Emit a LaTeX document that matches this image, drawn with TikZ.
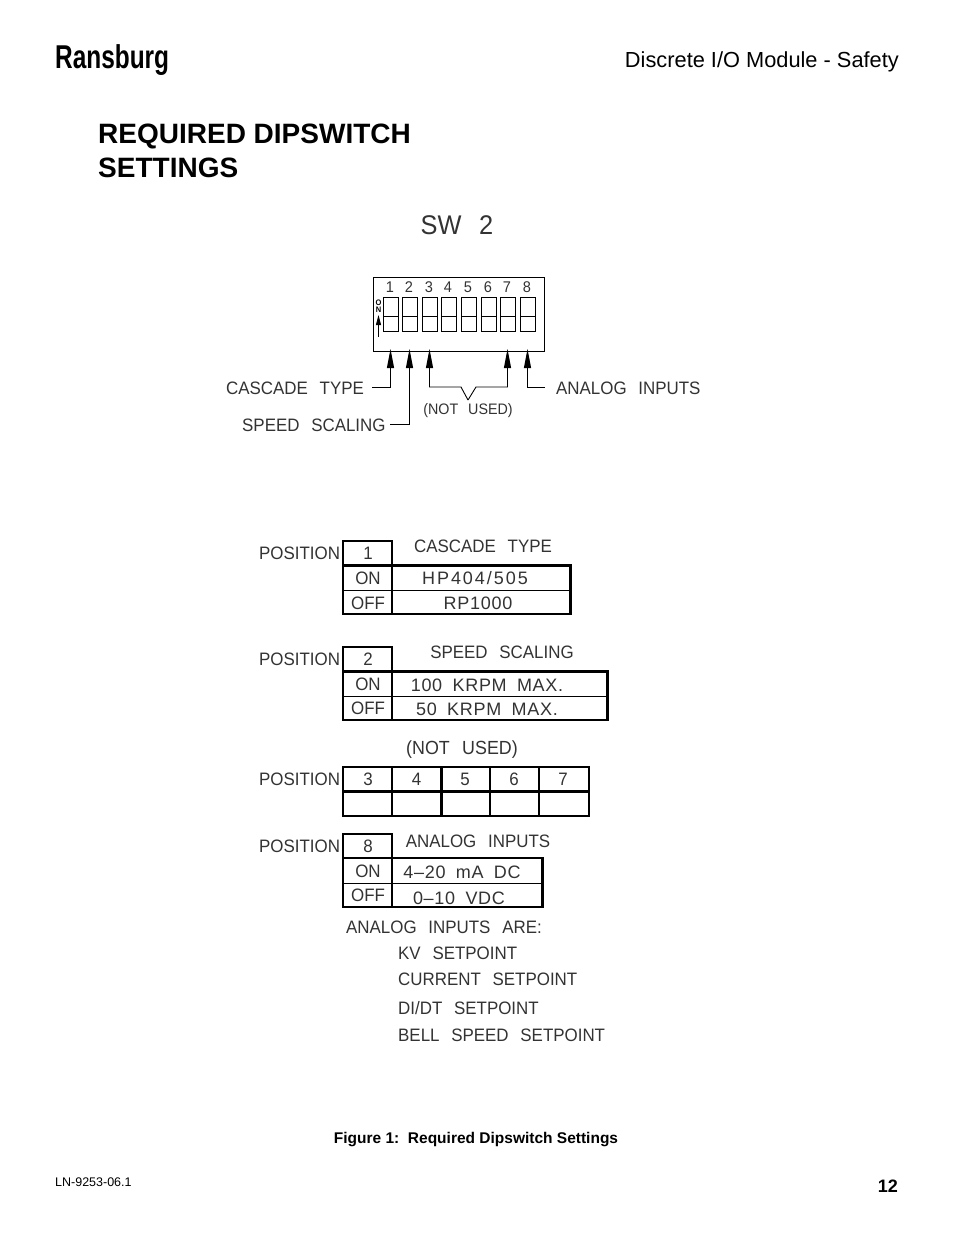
\documentclass[tikz,border=0pt]{standalone}
\usepackage{fontspec}
\setmainfont{Liberation Sans}
\newfontfamily\cadfont[FakeStretch=0.94,WordSpace=2.5]{Liberation Sans}
\newfontfamily\cadwide[FakeStretch=1.0,LetterSpace=4,WordSpace=1.8]{Liberation Sans}
\newfontfamily\logofont[FakeStretch=0.74]{Liberation Sans}
\usetikzlibrary{positioning,arrows.meta}

\tikzset{
    cad/.style={font=\cadfont\fontsize{18}{18}\selectfont,text=black!80,inner sep=0,anchor=west},
    cadc/.style={font=\cadfont\fontsize{18}{18}\selectfont,text=black!80,inner sep=0},
    cadval/.style={font=\cadwide\fontsize{18}{18}\selectfont,text=black!80,inner sep=0},
    grid/.style={line width=2.6pt},
    fine/.style={line width=0.8pt},
    leader/.style={line width=0.9pt,-{Triangle[length=19pt,width=7pt]}}
}

\begin{document}
\begin{tikzpicture}[x=1pt,y=-1pt]
        \useasboundingbox[fill=white] (0,0) rectangle (954,1235);

        % page head
        \node[anchor=west,inner sep=0,font=\logofont\bfseries\fontsize{33}{33}\selectfont] (logo) at (55,60) {Ransburg};
        \node[anchor=east,inner sep=0,font=\fontsize{21.8}{21.8}\selectfont] (module) at (899,62) {Discrete I/O Module - Safety};
        \node[anchor=north west,inner sep=0,align=left,font=\bfseries\fontsize{28}{33.5}\selectfont] (title) at (98,124) {REQUIRED DIPSWITCH\\SETTINGS};

        % switch
        \node[cadc,font=\cadfont\fontsize{27}{27}\selectfont] (sw) at (457,225) {SW 2};
        \draw[fine] (373.5,277.5) rectangle (544.5,351);
        \foreach \i/\x in {1/383,2/402,3/422,4/441,5/461,6/481,7/500,8/520}
        {
            \node[cadc,font=\cadfont\fontsize{15.5}{15.5}\selectfont] (num\i) at (\x+7,287) {\i};
            \draw[fine] (\x,297) rectangle (\x+15,331);
            \draw[fine] (\x,316) -- (\x+15,316);
            \coordinate (pin\i) at (\x+7.5,349);
        }
        \node[inner sep=0,font=\cadfont\bfseries\fontsize{8}{7}\selectfont,align=center] (on) at (378.5,306) {O\\N};
        \coordinate (ontail) at (378.5,337);
        \coordinate (ontip) at (378.5,315);
        \draw[line width=0.8pt,-{Triangle[length=10pt,width=5pt]}] (ontail) -- (ontip);

        % leaders
        \node[cad] (cascade) at (226,388) {CASCADE TYPE};
        \node[cad] (speed) at (242,425) {SPEED SCALING};
        \node[cad] (analog) at (556,388) {ANALOG INPUTS};
        \node[cadc,font=\cadfont\fontsize{15.2}{15.2}\selectfont] (unused) at (468,411) {(NOT USED)};
        \coordinate (cascadeend) at (372,387);
        \coordinate (speedend) at (390,424);
        \coordinate (analogend) at (545,387);
        \coordinate (vtip) at (468,400);
        \draw[leader] (cascadeend) -| (pin1);
        \draw[leader] (speedend) -| (pin2);
        \draw[leader] (analogend) -| (pin8);
        \draw[leader] (vtip) -- (461,387) -| (pin3);
        \draw[leader] (vtip) -- (476,387) -| (pin7);

        % position 1
        \node[cad] (pos1) at (259,553) {POSITION};
        \draw[grid] (343,541) rectangle (392,614);
        \draw[grid] (343,565.5) -- (570.5,565.5) -- (570.5,614) -- (392,614);
        \draw[fine] (343,590) -- (570.5,590);
        \node[cadc] (n1) at (368,553) {1};
        \node[cadc] (on1) at (368,578) {ON};
        \node[cadc] (off1) at (368,603) {OFF};
        \node[cadc] (head1) at (483,546) {CASCADE TYPE};
        \node[cadval] (val1a) at (475,578) {\addfontfeature{LetterSpace=11}HP404/505};
        \node[cadval] (val1b) at (478,603) {RP1000};

        % position 2
        \node[cad] (pos2) at (259,659) {POSITION};
        \draw[grid] (343,647) rectangle (392,720);
        \draw[grid] (343,671.5) -- (607.5,671.5) -- (607.5,720) -- (392,720);
        \draw[fine] (343,696) -- (607.5,696);
        \node[cadc] (n2) at (368,659) {2};
        \node[cadc] (on2) at (368,684) {ON};
        \node[cadc] (off2) at (368,708) {OFF};
        \node[cadc] (head2) at (502,652) {SPEED SCALING};
        \node[cadval] (val2a) at (487,685) {100 KRPM MAX.};
        \node[cadval] (val2b) at (487,709) {50 KRPM MAX.};

        % positions 3 to 7
        \node[cadc,font=\cadfont\fontsize{19}{19}\selectfont] (head3) at (462,750) {(NOT USED)};
        \node[cad] (pos3) at (259,779) {POSITION};
        \draw[grid] (343,767) rectangle (589,816);
        \draw[grid] (343,791.5) -- (589,791.5);
        \foreach \i/\x in {3/368,4/416.5,5/465,6/514,7/563}
        {
            \node[cadc] (n\i) at (\x,779) {\i};
        }
        \foreach \x in {392,441.5,490,539}
        {
            \draw[grid] (\x,767) -- (\x,816);
        }

        % position 8
        \node[cad] (pos8) at (259,846) {POSITION};
        \draw[grid] (343,834) rectangle (392,907);
        \draw[grid] (343,858) -- (542.5,858) -- (542.5,907) -- (392,907);
        \draw[fine] (343,883.5) -- (542.5,883.5);
        \node[cadc] (n8) at (368,846) {8};
        \node[cadc] (on8) at (368,871) {ON};
        \node[cadc] (off8) at (368,895) {OFF};
        \node[cadc] (head8) at (478,841) {ANALOG INPUTS};
        \node[cadval] (val8a) at (462,872) {4–20 mA DC};
        \node[cadval] (val8b) at (459,898) {0–10 VDC};

        % analog list
        \node[cad] (list0) at (346,927) {ANALOG INPUTS ARE:};
        \foreach \i/\y/\t in {1/953/{KV SETPOINT},2/979/{CURRENT SETPOINT},3/1008/{DI/DT SETPOINT},4/1035/{BELL SPEED SETPOINT}}
        {
            \node[cad] (list\i) at (398,\y) {\t};
        }

        % page foot
        \node[inner sep=0,font=\bfseries\fontsize{15.5}{15.5}\selectfont] (caption) at (476,1140) {Figure 1:\ \ Required Dipswitch Settings};
        \node[anchor=west,inner sep=0,font=\fontsize{12.5}{12.5}\selectfont] (docno) at (55,1182) {LN-9253-06.1};
        \node[anchor=east,inner sep=0,font=\bfseries\fontsize{18}{18}\selectfont] (page) at (898,1186) {12};
    \end{tikzpicture}
\end{document}
